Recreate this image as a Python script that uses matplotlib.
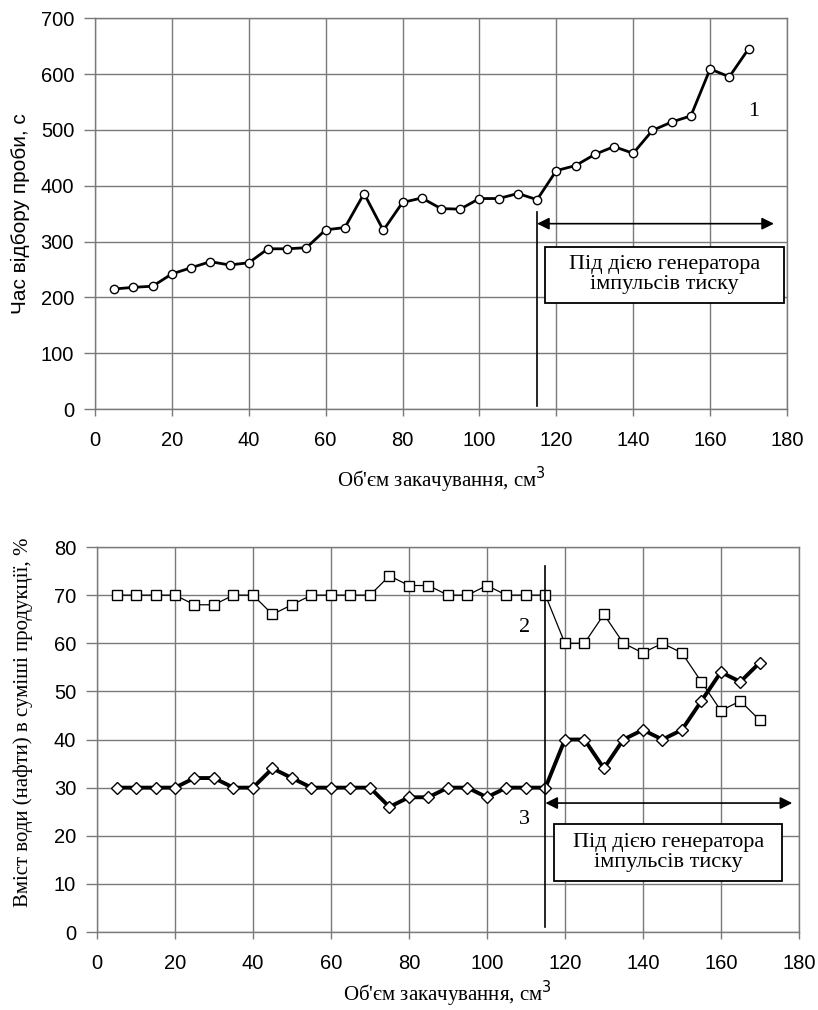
import matplotlib
matplotlib.use("Agg")
import matplotlib.pyplot as plt
from matplotlib.patches import Rectangle

# ---- data ----
x_vol = [5, 10, 15, 20, 25, 30, 35, 40, 45, 50, 55, 60, 65, 70, 75, 80, 85,
         90, 95, 100, 105, 110, 115, 120, 125, 130, 135, 140, 145, 150, 155,
         160, 165, 170]
t_sample = [215, 218, 220, 242, 253, 264, 258, 262, 287, 287, 289, 321, 325,
            386, 320, 370, 378, 359, 358, 377, 377, 386, 375, 427, 436, 456,
            470, 458, 499, 514, 525, 609, 595, 645]
water = [70, 70, 70, 70, 68, 68, 70, 70, 66, 68, 70, 70, 70, 70, 74, 72, 72,
         70, 70, 72, 70, 70, 70, 60, 60, 66, 60, 58, 60, 58, 52, 46, 48, 44]
oil = [30, 30, 30, 30, 32, 32, 30, 30, 34, 32, 30, 30, 30, 30, 26, 28, 28,
       30, 30, 28, 30, 30, 30, 40, 40, 34, 40, 42, 40, 42, 48, 54, 52, 56]
x_ticks = [0, 20, 40, 60, 80, 100, 120, 140, 160, 180]
y_ticks_top = [0, 100, 200, 300, 400, 500, 600, 700]
y_ticks_bot = [0, 10, 20, 30, 40, 50, 60, 70, 80]
x_start = 115
box_text = "Під дією генератора\nімпульсів тиску"
xlabel = "Об'єм закачування, см$^{3}$"
ylabel_top = "Час відбору проби, с"
ylabel_bot = "Вміст води (нафти) в суміші продукції, %"

SERIF = ["Liberation Serif", "DejaVu Serif"]
SANS = ["Liberation Sans", "DejaVu Sans"]
GRID = "#7a7a7a"

fig = plt.figure(figsize=(8.18, 10.10), dpi=100)
ax1 = fig.add_axes([0.1161, 0.595, 0.846, 0.387])
ax2 = fig.add_axes([0.1186, 0.0772, 0.858, 0.3812])


def style(ax, yticks):
    ax.set_xlim(0, 180)
    ax.set_ylim(yticks[0], yticks[-1])
    ax.set_xticks(x_ticks)
    ax.set_yticks(yticks)
    ax.grid(True, color=GRID, linewidth=1.0)
    ax.set_axisbelow(True)
    for s in ax.spines.values():
        s.set_color(GRID)
        s.set_linewidth(1.0)
    ax.tick_params(axis="both", direction="out", color=GRID, width=1.0)
    ax.tick_params(axis="y", length=8, pad=7)
    ax.tick_params(axis="x", length=5, pad=11)
    for lab in ax.get_xticklabels() + ax.get_yticklabels():
        lab.set_fontfamily(SANS)
        lab.set_fontsize(14.5)


def box(ax, x0, x1, y0, y1):
    ax.add_patch(Rectangle((x0, y0), x1 - x0, y1 - y0, facecolor="white",
                           edgecolor="black", linewidth=1.3, zorder=5))
    ax.text((x0 + x1) / 2, (y0 + y1) / 2, box_text, ha="center",
            va="center", fontsize=16, family=SERIF, linespacing=1.05,
            zorder=6)


def arrow(ax, x0, x1, y):
    ax.annotate("", xy=(x1, y), xytext=(x0, y),
                arrowprops=dict(arrowstyle="<|-|>", color="black", lw=1.2,
                                mutation_scale=18, shrinkA=0, shrinkB=0),
                zorder=4)


# ---- top chart ----
style(ax1, y_ticks_top)
ax1.plot(x_vol, t_sample, color="black", linewidth=2.0, marker="o",
         markersize=6, markerfacecolor="white", markeredgecolor="black",
         markeredgewidth=1.0, zorder=3)
ax1.plot([x_start, x_start], [5, 352], color="black", linewidth=1.2, zorder=4)
arrow(ax1, x_start, 176.6, 332)
box(ax1, 117, 179.2, 190, 291)
ax1.text(171.4, 533, "1", ha="center", va="center", fontsize=16,
         family=SERIF, zorder=5)
ax1.set_xlabel(xlabel, family=SERIF, fontsize=15)
ax1.xaxis.set_label_coords(0.5, -0.142)
ax1.set_ylabel(ylabel_top, family=SANS, fontsize=15)
ax1.yaxis.set_label_coords(-0.094, 0.5)

# ---- bottom chart ----
style(ax2, y_ticks_bot)
ax2.plot(x_vol, water, color="black", linewidth=0.9, marker="s",
         markersize=7, markerfacecolor="white", markeredgecolor="black",
         markeredgewidth=1.0, zorder=3)
ax2.plot(x_vol, oil, color="black", linewidth=2.8, marker="D",
         markersize=6, markerfacecolor="white", markeredgecolor="black",
         markeredgewidth=1.0, zorder=3)
ax2.plot([x_start, x_start], [1, 76], color="black", linewidth=1.2, zorder=4)
arrow(ax2, x_start, 178.3, 26.8)
box(ax2, 117.2, 175.8, 10.6, 22.4)
ax2.text(109.7, 63.3, "2", ha="center", va="center", fontsize=16,
         family=SERIF, zorder=5)
ax2.text(109.7, 23.3, "3", ha="center", va="center", fontsize=16,
         family=SERIF, zorder=5)
ax2.set_xlabel(xlabel, family=SERIF, fontsize=15)
ax2.xaxis.set_label_coords(0.5, -0.122)
ax2.set_ylabel(ylabel_bot, family=SERIF, fontsize=15)
ax2.yaxis.set_label_coords(-0.091, 0.545)

fig.savefig("out.png", dpi=100)
